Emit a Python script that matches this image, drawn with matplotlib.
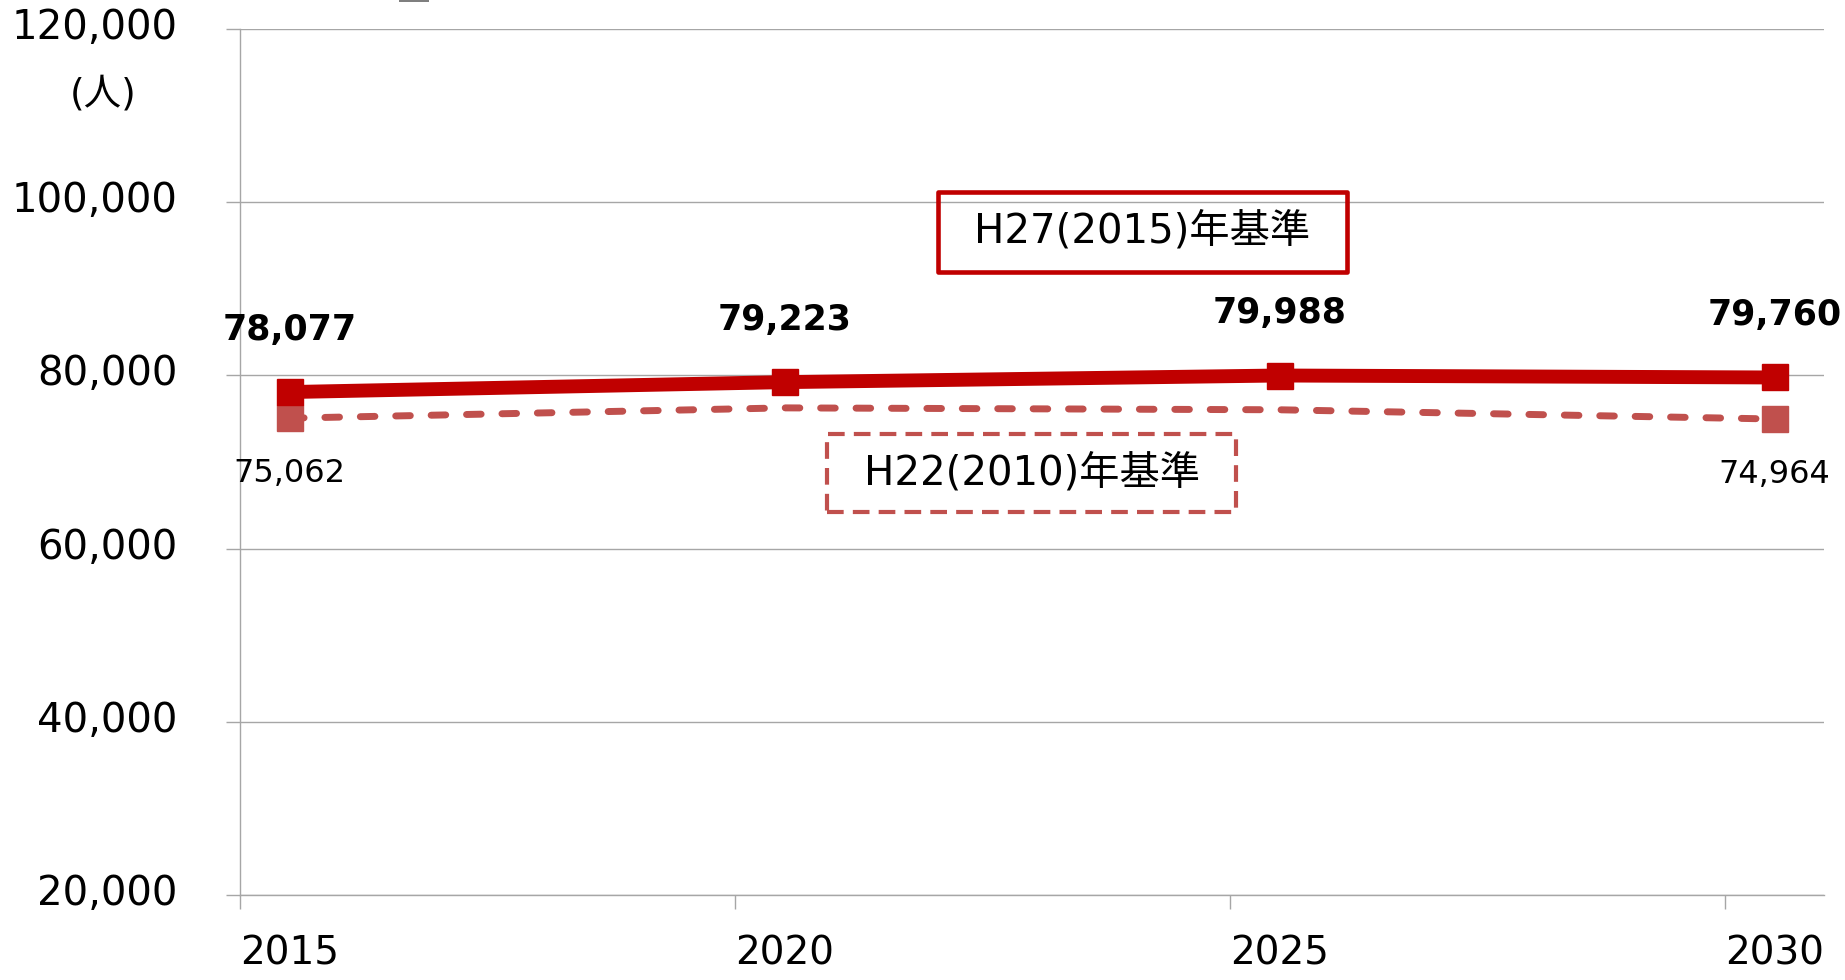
import numpy as np
import matplotlib.pyplot as plt
import matplotlib.transforms as mtransforms
from matplotlib.patches import Rectangle

plt.rcParams['font.family'] = ['DejaVu Sans', 'Noto Sans CJK JP']

years = ['2015', '2020', '2025', '2030']
h27_values = [78077, 79223, 79988, 79760]
h22_values = [75062, 76250, 76030, 74964]
h22_marked = [0, 3]
y_ticks = [20000, 40000, 60000, 80000, 100000, 120000]

red = '#C00000'
light_red = '#C0504D'
grey = '#A6A6A6'

W, H = 1845, 980
fig = plt.figure(figsize=(W / 100, H / 100), dpi=100)
ax = fig.add_axes([240 / W, 1 - 895 / H, (1824 - 240) / W, (895 - 29) / H])

x = np.arange(len(years)) + 0.1

# H27 series (solid)
ax.plot(x, h27_values, color=red, lw=10, marker='s', ms=19,
        solid_joinstyle='round', solid_capstyle='butt', zorder=4)
# H22 series (dashed)
ax.plot(x, h22_values, color=light_red, lw=5, ls=(0, (2.1, 3.0)),
        dash_capstyle='round', marker='s', ms=19, markevery=h22_marked, zorder=3)

for xi, v in zip(x, h27_values):
    ax.annotate(f'{v:,}', (xi, v), xytext=(0, 45), textcoords='offset points',
                ha='center', va='center', fontsize=25, fontweight='bold', zorder=5)
for i in h22_marked:
    ax.annotate(f'{h22_values[i]:,}', (x[i], h22_values[i]), xytext=(0, -40),
                textcoords='offset points', ha='center', va='center', fontsize=23, zorder=5)

ax.set_xlim(0, 3.2)
ax.set_ylim(20000, 120000)
ax.set_yticks(y_ticks)
ax.set_yticklabels([f'{t:,}' for t in y_ticks])
ax.set_xticks(np.arange(len(years)))
ax.set_xticklabels(years, ha='left')

ax.grid(axis='y', color=grey, lw=1.0)
ax.set_axisbelow(True)
for s in ['top', 'right']:
    ax.spines[s].set_visible(False)
for s in ['left', 'bottom']:
    ax.spines[s].set_color(grey)
    ax.spines[s].set_linewidth(1.0)
ax.tick_params(axis='y', length=10, width=1.0, color=grey, pad=35, labelsize=29)
ax.tick_params(axis='x', length=10, width=1.0, color=grey, pad=18.7, labelsize=28)

# nudge y tick labels up a little
shift = mtransforms.ScaledTranslation(0, 4 / 72, fig.dpi_scale_trans)
for lab in ax.get_yticklabels():
    lab.set_transform(lab.get_transform() + shift)

# unit label
fig.text(103 / W, 1 - 95 / H, '(人)', fontsize=27, ha='center', va='center')

# legend-like boxes
fig.add_artist(Rectangle((938 / W, 1 - 272 / H), 409 / W, 80 / H, transform=fig.transFigure,
                         fill=False, edgecolor=red, lw=3.3, joinstyle='round'))
fig.text(1142.5 / W, 1 - 232 / H, 'H27(2015)年基準', fontsize=29, ha='center', va='center')

fig.add_artist(Rectangle((827 / W, 1 - 512 / H), 409 / W, 78 / H, transform=fig.transFigure,
                         fill=False, edgecolor=light_red, lw=3, ls=(0, (4, 2.2)), joinstyle='round'))
fig.text(1031.5 / W, 1 - 473 / H, 'H22(2010)年基準', fontsize=29, ha='center', va='center')

# small clipped mark at the top edge
fig.add_artist(Rectangle((399 / W, 1 - 2 / H), 30 / W, 2 / H, transform=fig.transFigure,
                         color='#7F7F7F', lw=0))

fig.savefig('out.png', dpi=100)
